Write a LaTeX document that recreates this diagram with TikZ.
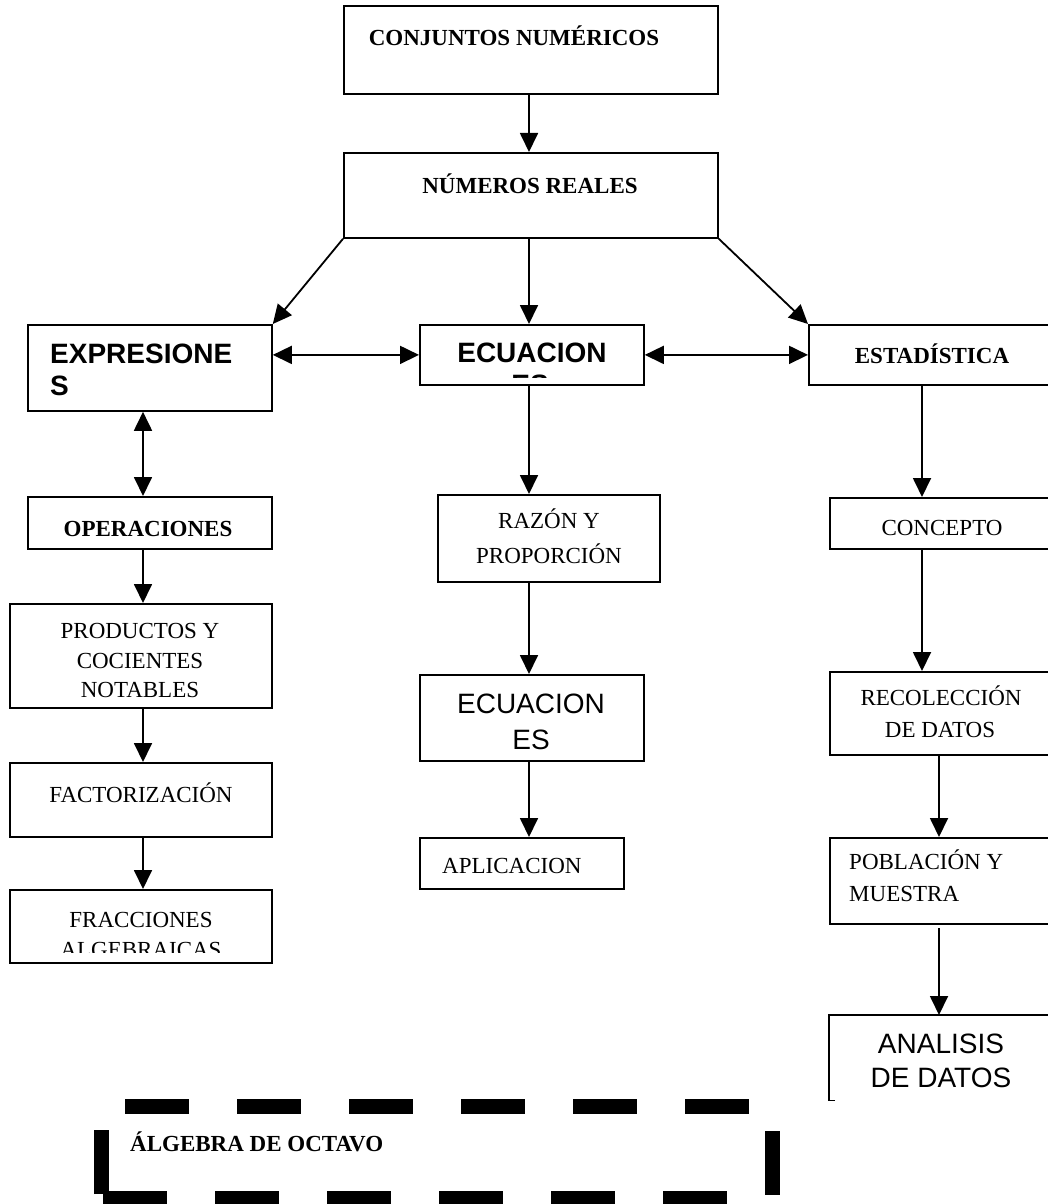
\documentclass[tikz,border=0pt]{standalone}
\usepackage{fontspec}
\setmainfont{Liberation Serif}
\newfontfamily\sansA{Liberation Sans}
\usetikzlibrary{arrows.meta}
\begin{document}
\begin{tikzpicture}[x=1pt,y=-1pt,
  box/.style={draw, line width=1.8pt, inner sep=0pt, anchor=north west},
  tip/.style={},
  arr/.style={line width=1.8pt, -{Triangle[length=19pt,width=18pt]}},
  darr/.style={line width=1.8pt, {Triangle[length=19pt,width=18pt]}-{Triangle[length=19pt,width=18pt]}},
  tb/.style={font=\fontsize{23}{28}\selectfont\bfseries, inner sep=0pt},
  tr/.style={font=\fontsize{23}{28}\selectfont, inner sep=0pt},
  sb/.style={font=\sansA\fontsize{28}{32}\selectfont\bfseries, inner sep=0pt},
  sr/.style={font=\sansA\fontsize{28}{32}\selectfont, inner sep=0pt},
]
\useasboundingbox (0,0) rectangle (1047,1204);

% ---------- boxes ----------
\node[box, minimum width=374pt, minimum height=88pt] (conj)  at (343,5)   {};
\node[box, minimum width=374pt, minimum height=85pt] (reales) at (343,152) {};
\node[box, minimum width=244pt, minimum height=86pt] (expr)  at (27,324)  {};
\node[box, minimum width=224pt, minimum height=60pt] (ecua)  at (419,324) {};
\node[box, minimum width=300pt, minimum height=60pt] (esta)  at (808,324) {};

\node[box, minimum width=244pt, minimum height=52pt] (oper)  at (27,496)  {};
\node[box, minimum width=262pt, minimum height=104pt] (prod) at (9,603)   {};
\node[box, minimum width=262pt, minimum height=74pt] (fact)  at (9,762)   {};
\node[box, minimum width=262pt, minimum height=73pt] (frac)  at (9,889)   {};

\node[box, minimum width=222pt, minimum height=87pt] (razon) at (437,494) {};
\node[box, minimum width=224pt, minimum height=86pt] (ecuados) at (419,674) {};
\node[box, minimum width=204pt, minimum height=51pt] (aplic) at (419,837) {};

\node[box, minimum width=300pt, minimum height=51pt] (conc)  at (829,497) {};
\node[box, minimum width=300pt, minimum height=83pt] (recol) at (829,671) {};
\node[box, minimum width=300pt, minimum height=86pt] (pobl)  at (829,837) {};
\node[inner sep=0pt, anchor=north west, minimum width=300pt, minimum height=85pt] (anal) at (829,1015) {};
\draw[line width=1.8pt] ([xshift=6pt]anal.south west) -- (anal.south west)
  -- (anal.north west) -- (anal.north east);

% ---------- texts ----------
\node[tb, anchor=base] (conjT) at (514,46) {CONJUNTOS NUMÉRICOS};
\node[tb, anchor=base] (realesT) at (530,193) {NÚMEROS REALES};
\node[sb, anchor=base west] (exprT1) at (50,363) {EXPRESIONE};
\node[sb, anchor=base west] (exprT2) at (50,395) {S};
\node[sb, anchor=base] (ecuaT1) at (532,362) {ECUACION};
\begin{scope}
  \clip (420,340) rectangle (642,377);
  \node[sb, anchor=base] (ecuaT2) at (530,394) {ES};
\end{scope}
\node[tb, anchor=base] (estaT) at (932,363) {ESTADÍSTICA};

\node[tb, anchor=base] (operT) at (148,536) {OPERACIONES};
\node[tr, anchor=base] (prodT1) at (140,638) {PRODUCTOS Y};
\node[tr, anchor=base] (prodT2) at (140,668) {COCIENTES};
\node[tr, anchor=base] (prodT3) at (140,697) {NOTABLES};
\node[tr, anchor=base] (factT) at (141,802) {FACTORIZACIÓN};
\node[tr, anchor=base] (fracT1) at (141,927) {FRACCIONES};
\begin{scope}
  \clip (10,935) rectangle (270,952);
  \node[tr, anchor=base] (fracT2) at (141,957) {ALGEBRAICAS};
\end{scope}

\node[tr, anchor=base] (razonT1) at (549,528) {RAZÓN Y};
\node[tr, anchor=base] (razonT2) at (549,563) {PROPORCIÓN};
\node[sr, anchor=base] (ecuadosT1) at (531,713) {ECUACION};
\node[sr, anchor=base] (ecuadosT2) at (531,749) {ES};
\node[tr, anchor=base west] (aplicT) at (442,873) {APLICACION};

\node[tr, anchor=base] (concT) at (942,535) {CONCEPTO};
\node[tr, anchor=base] (recolT1) at (941,705) {RECOLECCIÓN};
\node[tr, anchor=base] (recolT2) at (940,737) {DE DATOS};
\node[tr, anchor=base west] (poblT1) at (849,869) {POBLACIÓN Y};
\node[tr, anchor=base west] (poblT2) at (849,901) {MUESTRA};
\node[sr, anchor=base] (analT1) at (941,1053) {ANALISIS};
\node[sr, anchor=base] (analT2) at (941,1087) {DE DATOS};

% ---------- connectors ----------
\coordinate (lc) at (143,0);
\coordinate (cc) at (529,0);
\coordinate (rc) at (922,0);
\coordinate (rd) at (939,0);
\coordinate (pgap) at (939,928);

\draw[arr] (conj.south -| cc) -- (reales.north -| cc);
\draw[arr] (reales.south west) -- (expr.north east);
\draw[arr] (reales.south -| cc) -- (ecua.north -| cc);
\draw[arr] (reales.south east) -- (esta.north west);
\draw[darr] (expr.east |- ecua.west) -- (ecua.west);
\draw[darr] (ecua.east) -- (esta.west);

\draw[darr] (expr.south -| lc) -- (oper.north -| lc);
\draw[arr] (oper.south -| lc) -- (prod.north -| lc);
\draw[arr] (prod.south -| lc) -- (fact.north -| lc);
\draw[arr] (fact.south -| lc) -- (frac.north -| lc);

\draw[arr] (ecua.south -| cc) -- (razon.north -| cc);
\draw[arr] (razon.south -| cc) -- (ecuados.north -| cc);
\draw[arr] (ecuados.south -| cc) -- (aplic.north -| cc);

\draw[arr] (esta.south -| rc) -- (conc.north -| rc);
\draw[arr] (conc.south -| rc) -- (recol.north -| rc);
\draw[arr] (recol.south -| rd) -- (pobl.north -| rd);
\draw[arr] (pgap) -- (anal.north -| rd);

% ---------- title frame ----------
\draw[line width=15pt, dash pattern=on 64pt off 48pt, dash phase=108pt]
  (101,1198) -- (101,1106) -- (772,1106) -- (772,1198) -- cycle;
\node[tb, anchor=base west] (titleT) at (130,1151) {ÁLGEBRA DE OCTAVO};
\end{tikzpicture}
\end{document}
